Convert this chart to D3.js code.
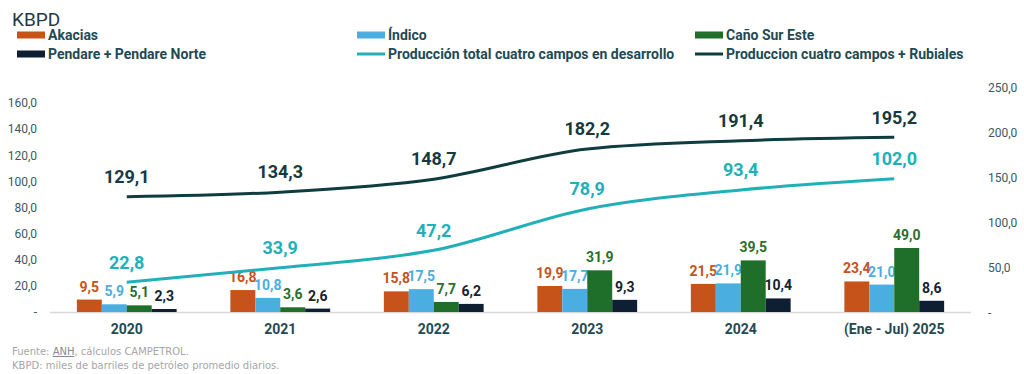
<!DOCTYPE html>
<html>
<head>
<meta charset="utf-8">
<style>
  body { margin: 0; background: #fff; }
  svg text { font-family: Roboto, "Open Sans", sans-serif; }
  .foot { font-family: "DejaVu Sans", sans-serif; font-size: 10px; fill: #a6a6a6; }
</style>
</head>
<body>
<svg width="1024" height="374"></svg>
<script src="https://cdnjs.cloudflare.com/ajax/libs/d3/7.8.5/d3.min.js"></script>
<script>

var years = ["2020", "2021", "2022", "2023", "2024", "(Ene - Jul) 2025"];
var akacias = [9.5, 16.8, 15.8, 19.9, 21.5, 23.4];
var indico = [5.9, 10.8, 17.5, 17.7, 21.9, 21.0];
var canoSurEste = [5.1, 3.6, 7.7, 31.9, 39.5, 49.0];
var pendare = [2.3, 2.6, 6.2, 9.3, 10.4, 8.6];
var totalCuatro = [22.8, 33.9, 47.2, 78.9, 93.4, 102.0];
var cuatroRubiales = [129.1, 134.3, 148.7, 182.2, 191.4, 195.2];
var leftTicks = [0, 20, 40, 60, 80, 100, 120, 140, 160];
var rightTicks = [0, 50, 100, 150, 200, 250];

var barSeries = [
  {name: "Akacias", values: akacias, color: "#c5531a", label: "#c5531a"},
  {name: "Índico", values: indico, color: "#4aaee0", label: "#4aaee0"},
  {name: "Caño Sur Este", values: canoSurEste, color: "#1f6e2a", label: "#2a6f2e"},
  {name: "Pendare + Pendare Norte", values: pendare, color: "#0e1f33", label: "#15222f"}
];

var svg = d3.select("svg");
var fmt = function(v) { return v.toFixed(1).replace(".", ","); };

var x0 = d3.scaleBand().domain(years).range([50, 971]);
var x1 = d3.scaleBand().domain(d3.range(4))
    .range([x0.bandwidth() * 0.175, x0.bandwidth() * 0.825]);
var yL = d3.scaleLinear().domain([0, 160]).range([312, 103]);
var yR = d3.scaleLinear().domain([0, 250]).range([313, 88]);

// title + legend
svg.append("text").attr("x", 12).attr("y", 26).attr("fill", "#1f3a4a")
    .style("font-size", "19px").text("KBPD");

var legend = [
  {name: "Akacias", color: "#c5531a", type: "rect", x: 17, y: 35},
  {name: "Índico", color: "#4aaee0", type: "rect", x: 357, y: 35},
  {name: "Caño Sur Este", color: "#1f6e2a", type: "rect", x: 695, y: 35},
  {name: "Pendare + Pendare Norte", color: "#0e1f33", type: "rect", x: 17, y: 54},
  {name: "Producción total cuatro campos en desarrollo", color: "#22b0b8", type: "line", x: 357, y: 54},
  {name: "Produccion cuatro campos + Rubiales", color: "#0f3d3f", type: "line", x: 695, y: 54}
];
var lg = svg.append("g").selectAll("g").data(legend).enter().append("g")
    .attr("transform", function(d) { return "translate(" + d.x + "," + d.y + ")"; });
lg.filter(function(d) { return d.type == "rect"; }).append("rect")
    .attr("x", 0).attr("y", -3.5).attr("width", 28).attr("height", 7)
    .attr("fill", function(d) { return d.color; });
lg.filter(function(d) { return d.type == "line"; }).append("line")
    .attr("x1", 0).attr("x2", 28).attr("y1", 0).attr("y2", 0)
    .attr("stroke", function(d) { return d.color; }).attr("stroke-width", 3);
lg.append("text").attr("x", 31).attr("dy", "0.35em")
    .attr("fill", "#1f4a55").style("font-size", "14px").style("font-weight", "bold")
    .text(function(d) { return d.name; });

// axes
var axL = svg.append("g").attr("transform", "translate(40,0)")
    .call(d3.axisLeft(yL).tickValues(leftTicks).tickSize(0)
      .tickFormat(function(d) { return d === 0 ? "-" : fmt(d); }));
var axR = svg.append("g").attr("transform", "translate(985,0)")
    .call(d3.axisRight(yR).tickValues(rightTicks).tickSize(0)
      .tickFormat(function(d) { return d === 0 ? "-" : fmt(d); }));
[axL, axR].forEach(function(a) {
  a.select(".domain").remove();
  a.selectAll("text").attr("fill", "#3a5862").style("font-size", "12px")
    .style("font-family", "Roboto, sans-serif");
});

svg.append("line").attr("x1", 50).attr("x2", 971).attr("y1", 312.5).attr("y2", 312.5)
    .attr("stroke", "#d9d9d9").attr("stroke-width", 1.5);

// bars
barSeries.forEach(function(s, i) {
  var g = svg.append("g");
  g.selectAll("rect").data(s.values).enter().append("rect")
      .attr("x", function(d, j) { return x0(years[j]) + x1(i); })
      .attr("width", x1.bandwidth())
      .attr("y", function(d) { return yL(d); })
      .attr("height", function(d) { return yL(0) - yL(d); })
      .attr("fill", s.color);
  g.selectAll("text").data(s.values).enter().append("text")
      .attr("x", function(d, j) { return x0(years[j]) + x1(i) + x1.bandwidth() / 2; })
      .attr("y", function(d) { return yL(d) - 8; })
      .attr("text-anchor", "middle").attr("fill", s.label)
      .style("font-size", "14px").style("font-weight", "bold")
      .text(fmt);
});

// x labels
svg.append("g").selectAll("text").data(years).enter().append("text")
    .attr("x", function(d) { return x0(d) + x0.bandwidth() / 2; })
    .attr("y", 334).attr("text-anchor", "middle")
    .attr("fill", "#1f4a55").style("font-size", "14px").style("font-weight", "bold")
    .text(function(d) { return d; });

// lines
var cx = function(j) { return x0(years[j]) + x0.bandwidth() / 2; };
var lineL = d3.line().curve(d3.curveMonotoneX)
    .x(function(d, j) { return cx(j); }).y(function(d) { return yL(d); });
var lineR = d3.line().curve(d3.curveMonotoneX)
    .x(function(d, j) { return cx(j); }).y(function(d) { return yR(d); });

svg.append("path").attr("d", lineL(totalCuatro)).attr("fill", "none")
    .attr("stroke", "#22b0b8").attr("stroke-width", 3);
svg.append("path").attr("d", lineR(cuatroRubiales)).attr("fill", "none")
    .attr("stroke", "#0f3d3f").attr("stroke-width", 3);

svg.append("g").selectAll("text").data(totalCuatro).enter().append("text")
    .attr("x", function(d, j) { return cx(j); })
    .attr("y", function(d) { return yL(d) - 20; }).attr("dy", "0.35em")
    .attr("text-anchor", "middle").attr("fill", "#22b0b8")
    .style("font-size", "18px").style("font-weight", "bold").text(fmt);
svg.append("g").selectAll("text").data(cuatroRubiales).enter().append("text")
    .attr("x", function(d, j) { return cx(j); })
    .attr("y", function(d) { return yR(d) - 20; }).attr("dy", "0.35em")
    .attr("text-anchor", "middle").attr("fill", "#173a40")
    .style("font-size", "18px").style("font-weight", "bold").text(fmt);

// footer
var f1 = svg.append("text").attr("class", "foot").attr("x", 12).attr("y", 355);
f1.append("tspan").text("Fuente: ");
f1.append("tspan").style("text-decoration", "underline").attr("fill", "#7f8c95").text("ANH");
f1.append("tspan").text(", cálculos CAMPETROL.");
svg.append("text").attr("class", "foot").attr("x", 12).attr("y", 369)
    .text("KBPD: miles de barriles de petróleo promedio diarios.");

</script>
</body>
</html>
